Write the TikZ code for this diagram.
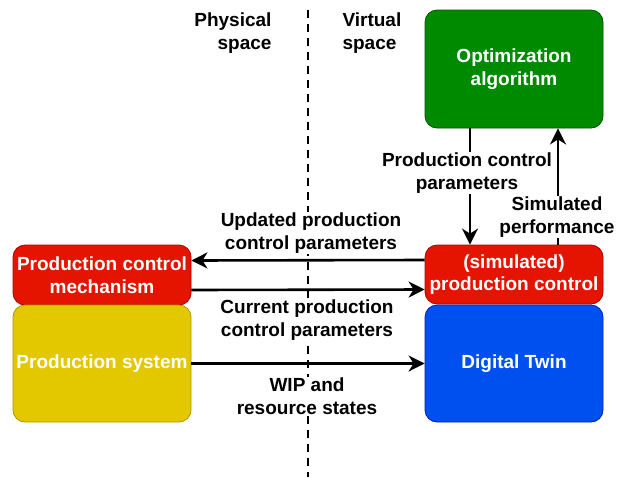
\documentclass[tikz,border=0pt]{standalone}
\usepackage{fontspec}
\setmainfont{Liberation Sans}
\usetikzlibrary{arrows.meta}
\definecolor{cred}{HTML}{E51400}
\definecolor{cgreen}{HTML}{008A00}
\definecolor{cblue}{HTML}{0050EF}
\definecolor{cyellow}{HTML}{E3C800}
\definecolor{sred}{HTML}{B20000}
\definecolor{sgreen}{HTML}{005700}
\definecolor{sblue}{HTML}{001DBC}
\definecolor{syellow}{HTML}{B09500}
\begin{document}
\begin{tikzpicture}[x=1pt,y=-1pt,
  every node/.style={font=\fontsize{19}{22.5}\selectfont\bfseries},
  box/.style={rounded corners=12pt, minimum width=178pt, inner sep=0pt, text=white, align=center, line width=0.8pt},
  lbl/.style={align=center, inner sep=1pt, fill=white, text=black},
  arr/.style={line width=2.6pt, -{Stealth[length=16pt,width=16pt,inset=5pt]}},
  divider/.style={line width=2.2pt, dash pattern=on 8pt off 6pt}]
\useasboundingbox (0,0) rectangle (626,477);
% divider
\coordinate (dtop) at (308,10);
\coordinate (dbot) at (308,477);
\draw[divider] (dtop) -- (dbot);
\node[align=right, anchor=east] (phys) at (275,33) {Physical\\space};
\node[align=left, anchor=west] (virt) at (339,33) {Virtual\\space};
% boxes
\node[box, fill=cgreen, draw=sgreen, minimum height=118pt] (opt) at (514,69) {Optimization\\algorithm};
\node[box, fill=cred, draw=sred, minimum height=59pt] (spc) at (514,274.5) {(simulated)\\production control};
\node[box, fill=cblue, draw=sblue, minimum height=117pt] (dt) at (514,363.5) {Digital Twin};
\node[box, fill=cred, draw=sred, minimum height=60pt] (pcm) at (102,275) {Production control\\mechanism};
\node[box, fill=cyellow, draw=syellow, minimum height=117pt] (ps) at (102,363.5) {Production system};
% connectors
\draw[arr] ([xshift=-44pt]opt.south) -- ([xshift=-44pt]spc.north);
\draw[arr] ([xshift=44pt]spc.north) -- ([xshift=44pt]opt.south);
\draw[arr] ([yshift=14.5pt]spc.west) -- ([yshift=14.5pt]pcm.east);
\draw[arr] ([yshift=-15pt]pcm.east) -- ([yshift=-15pt]spc.west);
\draw[arr] (ps.east) -- (dt.west);
% labels
\node[lbl] (l1) at (467,173) {Production control\\parameters};
\node[lbl] (l2) at (557,217) {Simulated\\performance};
\node[lbl] (l3) at (311,233) {Updated production\\control parameters};
\node[lbl] (l4) at (307,320) {Current production\\control parameters};
\node[lbl] (l5) at (307,396) {WIP and\\resource states};
\end{tikzpicture}
\end{document}
